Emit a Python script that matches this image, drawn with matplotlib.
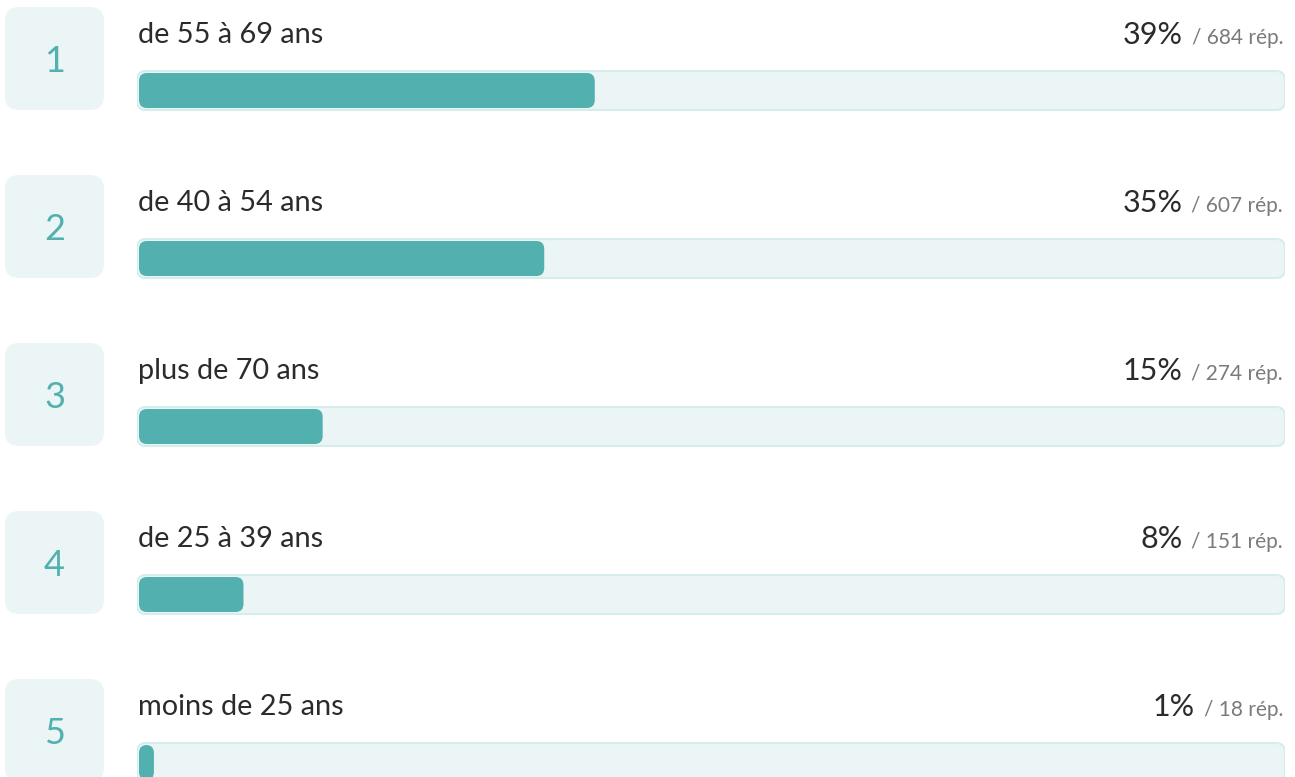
import matplotlib.pyplot as plt
from matplotlib.patches import FancyBboxPatch

ranks = [1, 2, 3, 4, 5]
labels = ["de 55 à 69 ans", "de 40 à 54 ans", "plus de 70 ans", "de 25 à 39 ans", "moins de 25 ans"]
pct_labels = [39, 35, 15, 8, 1]
responses = [684, 607, 274, 151, 18]
bar_share = [39.7, 35.3, 16.0, 9.1, 1.3]   # bar length in % of track

TEAL = "#52b0af"
LIGHT = "#ebf5f6"
BORDER = "#d6eded"
DARK = "#2b2b2b"
GREY = "#7a7a7a"
W, H = 1295, 777
FONT = ["Lato", "DejaVu Sans"]

fig = plt.figure(figsize=(W / 100, H / 100), dpi=100)
fig.patch.set_facecolor("white")

# background axes in pixel coords
bg = fig.add_axes([0, 0, 1, 1])
bg.set_xlim(0, W)
bg.set_ylim(H, 0)
bg.axis("off")

# bar axes: x in percent, y in pixels
tx0, tx1 = 137, 1285
ax = fig.add_axes([tx0 / W, 0, (tx1 - tx0) / W, 1])
ax.set_xlim(0, 100)
ax.set_ylim(H, 0)
ax.axis("off")
px = 100 / (tx1 - tx0)   # one pixel in x units
aspect = 1 / px

renderer = fig.canvas.get_renderer()
pitch = 168
for i, (rk, lab, p, n, share) in enumerate(zip(ranks, labels, pct_labels, responses, bar_share)):
    y0 = 7 + pitch * i
    # rank box
    bg.add_patch(FancyBboxPatch((5, y0), 99, 103, boxstyle="round,pad=0,rounding_size=14",
                                fc=LIGHT, ec="none"))
    bg.text(54.5, y0 + 54, str(rk), ha="center", va="center", fontsize=26,
            color=TEAL, family=FONT)
    # label
    bg.text(138, y0 + 36, lab, ha="left", va="baseline", fontsize=20.8, color=DARK, family=FONT)
    # percent + responses
    t2 = bg.text(1283, y0 + 37, f"/ {n} rép.", ha="right", va="baseline", fontsize=15,
                 color=GREY, family=FONT)
    wpx = t2.get_window_extent(renderer).width
    bg.text(1283 - wpx - 9, y0 + 37, f"{p}%", ha="right", va="baseline", fontsize=22,
            color=DARK, family=FONT)
    # track
    ax.add_patch(FancyBboxPatch((0, y0 + 64), 100, 39,
                                boxstyle=f"round,pad=0,rounding_size={9 * px}",
                                mutation_aspect=aspect, fc=LIGHT, ec=BORDER, lw=1.5))
    # filled bar
    ax.add_patch(FancyBboxPatch((2 * px, y0 + 66), share, 35,
                                boxstyle=f"round,pad=0,rounding_size={8 * px}",
                                mutation_aspect=aspect, fc=TEAL, ec="none"))

fig.savefig("out.png", dpi=100, facecolor="white")
